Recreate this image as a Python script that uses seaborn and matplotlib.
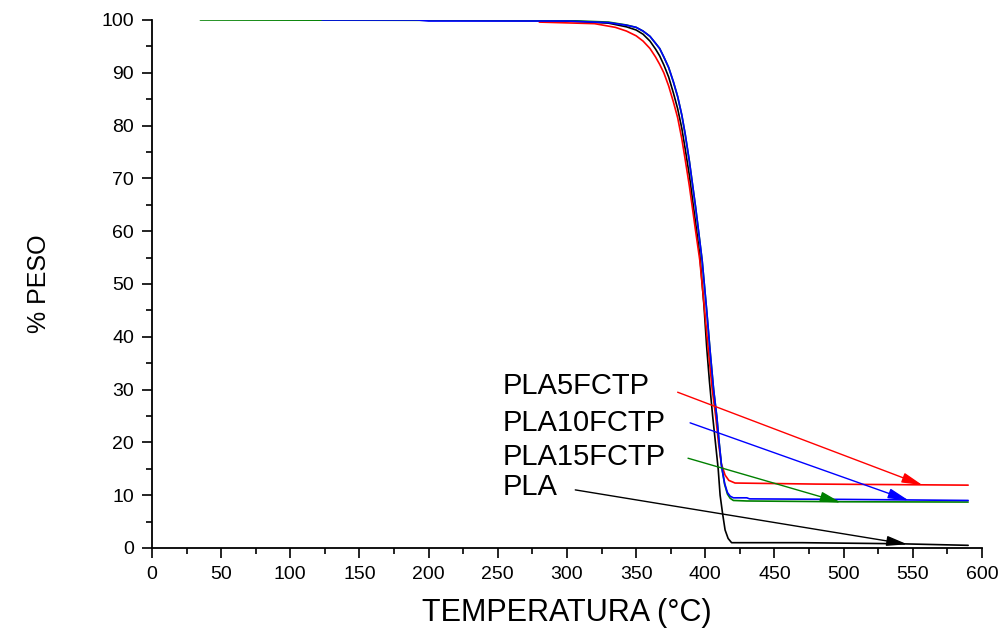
import numpy as np
import pandas as pd
import matplotlib
matplotlib.use("Agg")
import matplotlib.pyplot as plt
import seaborn as sns

# TGA curves (temperature in C, weight in %)
pla_temp = [200, 300, 330, 343, 350, 355, 360, 364, 367, 370, 373.5, 376.9, 380, 383, 385.5, 388.5, 393, 396, 399, 401, 403, 405.3, 407.5, 409.3, 410.7, 412.5, 414.3, 416.5, 419, 470, 540, 590]
pla_weight = [100, 99.8, 99.4, 98.7, 98.1, 97.3, 96.0, 94.5, 93.2, 91.5, 89.2, 86.2, 83.2, 79.5, 75.5, 70.5, 61.5, 55.5, 46.0, 38.0, 31.5, 25.0, 19.5, 15.0, 10.0, 6.5, 3.4, 1.8, 1.0, 1.0, 0.8, 0.5]

pla5_temp = [280, 320, 335, 343, 350, 355, 360, 364, 367, 370, 373.5, 376.9, 380, 383, 385.5, 388.5, 393, 396, 399.5, 402.3, 405, 407.5, 409.5, 411.5, 414.3, 417, 421.5, 480, 590]
pla5_weight = [99.6, 99.3, 98.6, 97.9, 97.0, 96.0, 94.6, 93.0, 91.6, 90.0, 87.5, 84.5, 81.5, 77.5, 73.5, 68.5, 60.0, 54.5, 45.0, 37.2, 30.0, 24.9, 20.0, 16.0, 13.8, 12.8, 12.3, 12.1, 11.9]

pla10_temp = [123, 192, 200, 300, 330, 343, 350, 355, 360, 364, 367, 370, 373.5, 376.9, 380, 383, 385.5, 388.5, 393, 397.7, 401, 403.5, 406, 408.3, 410, 411.8, 414, 416, 418, 420.3, 430, 432, 500, 590]
pla10_weight = [100, 100, 99.8, 99.8, 99.5, 99.0, 98.6, 97.9, 96.9, 95.6, 94.6, 93.0, 91.0, 88.3, 85.5, 82.0, 78.3, 73.2, 64.5, 54.5, 45.0, 37.2, 30.0, 24.9, 20.0, 15.4, 12.2, 10.5, 9.8, 9.5, 9.5, 9.3, 9.2, 9.0]

pla15_temp = [35, 300, 330, 343, 350, 355, 360, 364, 367, 370, 373.5, 376.9, 380, 383, 385.5, 388.5, 393, 397.7, 401, 403.5, 406, 408.3, 410, 411.8, 414, 416, 418, 420.3, 430, 500, 590]
pla15_weight = [100, 99.9, 99.6, 99.05, 98.6, 97.9, 96.9, 95.6, 94.6, 93.0, 91.0, 88.3, 85.5, 82.0, 78.3, 73.2, 64.5, 54.5, 45.0, 37.2, 30.0, 24.9, 20.0, 15.4, 12.0, 10.2, 9.4, 9.0, 8.9, 8.75, 8.7]

labels = ["PLA5FCTP", "PLA10FCTP", "PLA15FCTP", "PLA"]
colors = ["#ff0000", "#0000ff", "#008000", "#000000"]
# arrow start / end points (data units)
arrow_start = [(380, 29.5), (389, 23.7), (387.5, 17.0), (306, 11.0)]
arrow_end = [(557, 11.9), (547, 9.0), (498, 8.6), (546, 0.7)]
label_y = [30.7, 23.7, 17.2, 11.6]

sns.set_style("ticks")
plt.rcParams["font.family"] = ["Liberation Sans", "DejaVu Sans"]
plt.rcParams["text.color"] = "black"
plt.rcParams["axes.labelcolor"] = "black"

fig = plt.figure(figsize=(10.05, 6.3), dpi=100)
ax = fig.add_axes([0.1512, 0.1302, 0.8259, 0.8381])

series = [
    (pla_temp, pla_weight, "#000000"),
    (pla5_temp, pla5_weight, "#ff0000"),
    (pla15_temp, pla15_weight, "#008000"),
    (pla10_temp, pla10_weight, "#0000ff"),
]
for t, w, c in series:
    df = pd.DataFrame({"T": t, "W": w})
    sns.lineplot(data=df, x="T", y="W", color=c, linewidth=1.2, estimator=None, sort=False, ax=ax)

# labels with arrows
for lab, c, s, e, ly in zip(labels, colors, arrow_start, arrow_end, label_y):
    ax.text(253.5, ly, lab, fontsize=21, color="black", ha="left", va="center")
    ax.annotate("", xy=e, xytext=s,
                arrowprops=dict(arrowstyle="-|>,head_length=0.9,head_width=0.22",
                                color=c, lw=1.0, mutation_scale=14,
                                shrinkA=0, shrinkB=0))

ax.set_xlim(0, 600)
ax.set_ylim(0, 100)
ax.set_xticks(np.arange(0, 601, 50))
ax.set_yticks(np.arange(0, 101, 10))
ax.set_xticks(np.arange(25, 600, 50), minor=True)
ax.set_yticks(np.arange(5, 100, 10), minor=True)
ax.tick_params(axis="both", which="major", direction="out", length=7, width=1.2,
               labelsize=14, pad=6, colors="black")
ax.tick_params(axis="both", which="minor", direction="out", length=4, width=1.2, colors="black")

for side in ["top", "right"]:
    ax.spines[side].set_visible(False)
for side in ["left", "bottom"]:
    ax.spines[side].set_linewidth(1.3)
    ax.spines[side].set_color("black")

ax.set_xlabel("TEMPERATURA (°C)", fontsize=22, labelpad=11, color="black")
ax.set_ylabel("% PESO", fontsize=18, labelpad=36, color="black")

fig.savefig("out.png", dpi=100)
